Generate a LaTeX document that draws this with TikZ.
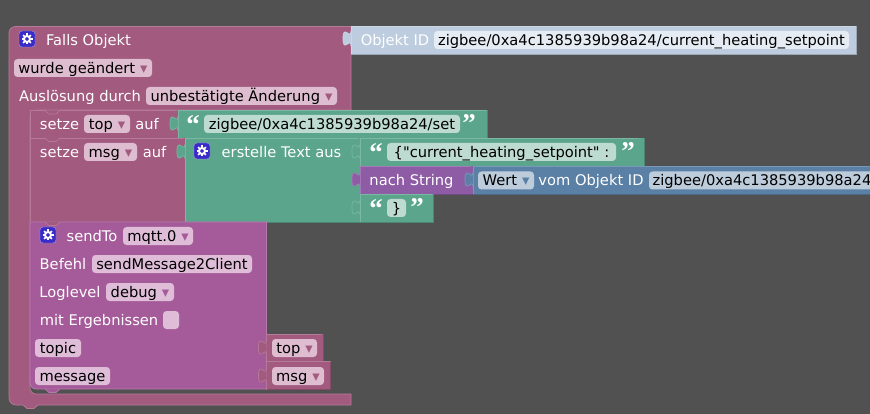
\documentclass[tikz,border=0pt]{standalone}
\usepackage{fontspec}
\setmainfont{DejaVu Sans}
\newfontfamily\rawfont{DejaVu Sans}
\newfontfamily\quotefont{Liberation Serif}
\usetikzlibrary{shapes,arrows,calc}
\definecolor{bgdark}{HTML}{515151}
\definecolor{objcol}{HTML}{A25A7E}
\definecolor{objedge}{HTML}{B57A98}
\definecolor{objtint}{HTML}{DFBDD0}
\definecolor{sendcol}{HTML}{A55B99}
\definecolor{sendedge}{HTML}{B87AAE}
\definecolor{sendtint}{HTML}{DFBDD9}
\definecolor{txtcol}{HTML}{5BA58C}
\definecolor{txtedge}{HTML}{7AB8A3}
\definecolor{txttint}{HTML}{BDDBD1}
\definecolor{convcol}{HTML}{8E5BA5}
\definecolor{convedge}{HTML}{A57AB8}
\definecolor{valcol}{HTML}{5B80A5}
\definecolor{valedge}{HTML}{7A98B8}
\definecolor{valtint}{HTML}{BDCCDB}
\definecolor{idcol}{HTML}{BDCCDE}
\definecolor{idedge}{HTML}{CBD7E5}
\definecolor{idtint}{HTML}{E6ECF3}
\definecolor{iconcol}{HTML}{3A2BC8}
\tikzstyle{objb}=[fill=objcol,draw=objedge,line width=.7pt]
\tikzstyle{sendb}=[fill=sendcol,draw=sendedge,line width=.7pt]
\tikzstyle{txtb}=[fill=txtcol,draw=txtedge,line width=.7pt]
\tikzstyle{convb}=[fill=convcol,draw=convedge,line width=.7pt]
\tikzstyle{valb}=[fill=valcol,draw=valedge,line width=.7pt]
\tikzstyle{idb}=[fill=idcol,draw=idedge,line width=.7pt]
\tikzstyle{lbl}=[text=white,inner sep=0pt,font=\fontsize{14.67}{16}\selectfont,text height=12pt,text depth=1pt]
\tikzstyle{fld}=[text=black,inner sep=0pt,rounded corners=3.5pt,minimum height=18pt,font=\fontsize{14.67}{16}\selectfont,text height=12pt,text depth=1pt]
\tikzstyle{objf}=[fld,fill=objtint]
\tikzstyle{sendf}=[fld,fill=sendtint]
\tikzstyle{txtf}=[fld,fill=txttint]
\tikzstyle{valf}=[fld,fill=valtint]
\tikzstyle{idf}=[fld,fill=idtint]
\tikzstyle{quo}=[text=white,inner sep=0pt,font=\quotefont\bfseries\fontsize{27}{27}\selectfont]
\newcommand{\drop}[1]{\hspace{5pt}\textcolor{#1}{▾}}
% block with a lit edge, and a darker one at right and bottom
\newcommand{\blockbox}[5]{
  \draw [#5] (#1,#2) rectangle (#3,#4);
  \draw [#5,draw=black!18!#5col] (#3,#2) -- (#3,#4) -- (#1,#4);
}
% puzzle piece sticking out on the left of a block
\newcommand{\puzzletab}[3]{
  \filldraw [#3] (#1,#2) .. controls (#1,#2+10) and (#1-8,#2-8) .. (#1-8,#2+7.5)
    .. controls (#1-8,#2+23) and (#1,#2+5) .. (#1,#2+15);
}
% notch of the block above
\newcommand{\notch}[3]{
  \filldraw [#3] (#1,#2) -- (#1+4,#2+3.5) -- (#1+11,#2+3.5) -- (#1+15,#2);
}
\newcommand{\gearicon}[3]{
  \node [fill=iconcol,draw=white!55!iconcol,rounded corners=3pt,minimum size=16pt,inner sep=0pt] (#1) at (#2,#3) {};
  \foreach \a in {0,45,...,315}
    \draw [white,line width=1.6pt] (#1.center) ++(\a:3.5pt) -- ++(\a:2pt);
  \draw [white,line width=2pt] (#1.center) circle (3pt);
}
\colorlet{objbcol}{objcol}
\colorlet{sendbcol}{sendcol}
\colorlet{txtbcol}{txtcol}
\colorlet{convbcol}{convcol}
\colorlet{valbcol}{valcol}
\colorlet{idbcol}{idcol}
\begin{document}
\begin{tikzpicture}[x=1pt,y=-1pt]
  \useasboundingbox (0,0) rectangle (870,414);
  \clip (0,0) rectangle (870,414);
  \fill [bgdark] (0,0) rectangle (870,414);

  % outer block
  \draw [objb] (9,33) arc (180:270:6.5) -- (351,26.5) -- (351,110) -- (36,110)
    arc (270:180:6) -- (30,388) arc (180:90:6) -- (351,394) -- (351,405) -- (38,405)
    -- (34,408.5) -- (27,408.5) -- (23,405) -- (16,405) arc (90:180:7) -- cycle;
  \blockbox{351}{26.5}{856}{54.5}{idb}
  \puzzletab{351}{31}{idb}
  \gearicon{falsicon}{27}{39}
  \node [lbl] (falls) at (88.5,40) {Falls Objekt};
  \node [lbl,right of=falls,node distance=306.5pt] (objid) {Objekt ID};
  \node [idf,minimum width=415pt,right of=objid,node distance=246.5pt] (objidval) {zigbee/0xa4c1385939b98a24/current\_heating\_setpoint};
  \node [objf,minimum width=138pt] (changed) at (83,68) {wurde geändert\drop{objcol}};
  \node [lbl] (trigger) at (80,96) {Auslösung durch};
  \node [objf,minimum width=191pt,right of=trigger,node distance=161.5pt] (ack) {unbestätigte Änderung\drop{objcol}};

  % setze top
  \blockbox{30}{110.5}{178}{138}{objb}
  \blockbox{178}{110.5}{487.5}{138}{txtb}
  \puzzletab{178}{116}{txtb}
  \notch{45}{110.5}{objb}
  \node [lbl] (settop) at (59.5,124) {setze};
  \node [objf,minimum width=46pt,right of=settop,node distance=47.5pt] (topvar) {top\drop{objcol}};
  \node [lbl,right of=topvar,node distance=40pt] (topauf) {auf};
  \node [quo] (topopen) at (193,125) {“};
  \node [txtf,minimum width=256pt] (topval) at (332,124) {zigbee/0xa4c1385939b98a24/set};
  \node [quo,right of=topval,node distance=137pt] (topclose) {”};

  % setze msg
  \blockbox{30}{138}{185}{222}{objb}
  \blockbox{185}{138}{360}{222}{txtb}
  \puzzletab{185}{144}{txtb}
  \puzzletab{360}{144}{txtb}
  \puzzletab{360}{200}{txtb}
  \notch{45}{138}{objb}
  \node [lbl] (setmsg) at (59.5,152) {setze};
  \node [objf,minimum width=53pt,right of=setmsg,node distance=51pt] (msgvar) {msg\drop{objcol}};
  \node [lbl,right of=msgvar,node distance=44pt] (msgauf) {auf};
  \gearicon{texticon}{202}{151}
  \node [lbl] (mktext) at (281.5,152) {erstelle Text aus};

  % text parts
  \blockbox{360}{138}{644}{166}{txtb}
  \node [quo] (partaopen) at (376,153) {“};
  \node [txtf,minimum width=229pt] (partaval) at (501.5,152) {\rawfont\{"current\_heating\_setpoint" :};
  \node [quo,right of=partaval,node distance=126.5pt] (partaclose) {”};
  \blockbox{360}{166}{473}{194}{convb}
  \blockbox{473}{166}{880}{194}{valb}
  \puzzletab{360}{172}{convb}
  \puzzletab{473}{172}{valb}
  \node [lbl] (tostr) at (411.5,180) {nach String};
  \node [valf,minimum width=56pt] (wert) at (506,180.5) {Wert\drop{valcol}};
  \node [lbl,right of=wert,node distance=85pt] (vomobj) {vom Objekt ID};
  \node [valf,minimum width=226pt] (vomval) at (762,180.5) {zigbee/0xa4c1385939b98a24};
  \blockbox{360}{194}{433.5}{222.5}{txtb}
  \node [quo] (partcopen) at (376,209) {“};
  \node [txtf,minimum width=19pt] (partcval) at (396.5,208) {\}};
  \node [quo,right of=partcval,node distance=20.5pt] (partcclose) {”};

  % sendTo
  \draw [sendb] (30,222) -- (266.5,222) -- (266.5,389) -- (36,389) arc (90:180:6) -- cycle;
  \filldraw [sendb] (45,389) -- (49,392.5) -- (56,392.5) -- (60,389);
  \notch{45}{222}{objb}
  \gearicon{sendicon}{48}{235}
  \node [lbl] (sendto) at (92,236) {sendTo};
  \node [sendf,minimum width=70pt,right of=sendto,node distance=66pt] (inst) {mqtt.0\drop{sendcol}};
  \node [lbl] (befehl) at (63,264) {Befehl};
  \node [sendf,minimum width=160pt,right of=befehl,node distance=109pt] (cmd) {sendMessage2Client};
  \node [lbl] (loglevel) at (70,292) {Loglevel};
  \node [sendf,minimum width=68pt,right of=loglevel,node distance=70pt] (level) {debug\drop{sendcol}};
  \node [lbl] (witherr) at (99,320) {mit Ergebnissen};
  \node [sendf,minimum width=16pt,right of=witherr,node distance=72pt] (check) {};
  \node [sendf,minimum width=46pt] (topic) at (58,348) {topic};
  \node [sendf,minimum width=75pt] (message) at (72.5,376) {message};

  % arguments
  \blockbox{266.5}{334}{323}{361.5}{objb}
  \blockbox{266.5}{361.5}{330}{389}{objb}
  \puzzletab{266.5}{340}{objb}
  \puzzletab{266.5}{368}{objb}
  \node [objf,minimum width=45pt] (topref) at (294.5,348) {top\drop{objcol}};
  \node [objf,minimum width=52pt] (msgref) at (298,376) {msg\drop{objcol}};
\end{tikzpicture}
\end{document}
